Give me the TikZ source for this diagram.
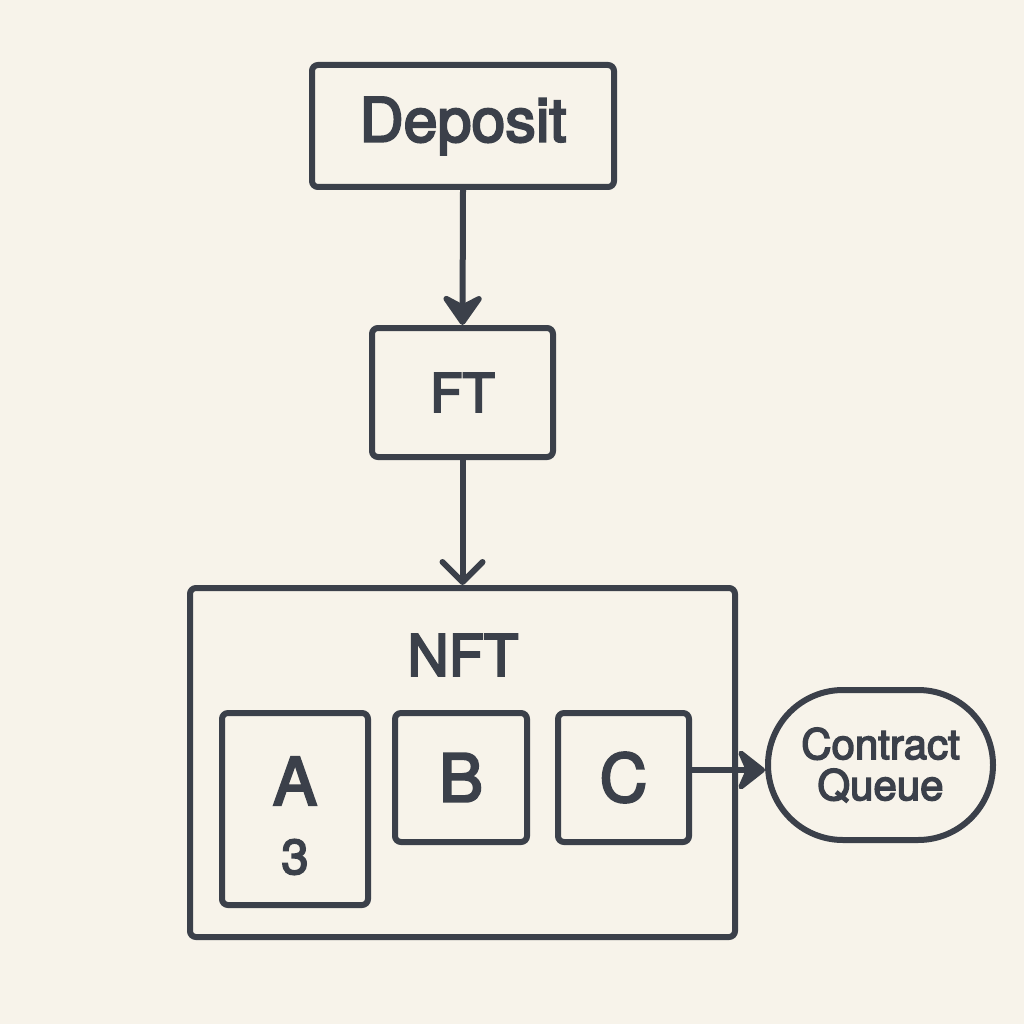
\documentclass[tikz,border=0pt]{standalone}
\usepackage{fontspec}
\setmainfont{TeX Gyre Heros}[FakeBold=3.5]
\usetikzlibrary{arrows.meta}
\definecolor{bg}{HTML}{F7F3EA}
\definecolor{ink}{HTML}{3B404A}
\begin{document}
\begin{tikzpicture}[x=1pt,y=-1pt,
  box/.style={draw=ink,line width=6pt,rounded corners=6pt,inner sep=0pt,text=ink},
  conn/.style={draw=ink,line width=6pt}]
\fill[bg] (0,0) rectangle (1024,1024);
\useasboundingbox (0,0) rectangle (1024,1024);
% boxes
\node[box,minimum width=302pt,minimum height=122pt,font=\fontsize{61}{63}\selectfont] (dep) at (463,126) {Deposit};
\node[box,minimum width=181pt,minimum height=129pt,font=\fontsize{53}{55}\selectfont] (ft) at (462.5,392.5) {FT};
\node[box,minimum width=545pt,minimum height=349pt] (nft) at (462.5,762.5) {};
\node[text=ink,font=\fontsize{57}{59}\selectfont,inner sep=0pt] (nftl) at (463,655) {NFT};
\node[box,minimum width=146pt,minimum height=192pt] (a) at (295,809) {};
\node[text=ink,font=\fontsize{66}{68}\selectfont,inner sep=0pt] (al) at (295,781) {A};
\node[text=ink,font=\fontsize{49}{51}\selectfont,inner sep=0pt] (an) at (295,857) {3};
\node[box,minimum width=132pt,minimum height=129pt,font=\fontsize{66}{68}\selectfont] (b) at (461,777.5) {B};
\node[box,minimum width=131pt,minimum height=129pt,font=\fontsize{66}{68}\selectfont] (c) at (623.5,777.5) {C};
\node[box,rounded corners=75pt,minimum width=225pt,minimum height=150pt,align=center,font=\fontsize{42}{41}\selectfont] (cq) at (880.5,765) {Contract\\Queue};
% connectors
\draw[conn,-{Stealth[length=36pt,width=50pt,inset=13pt,round]}] (dep.south) -- (ft.north);
\draw[conn,-{Straight Barb[length=20pt,width=40pt,round]}] (ft.south) -- (nft.north);
\draw[conn,-{Stealth[length=32pt,width=50pt,inset=11pt,round]}] (c.east |- 0,770) -- (cq.west |- 0,770);
\end{tikzpicture}
\end{document}
